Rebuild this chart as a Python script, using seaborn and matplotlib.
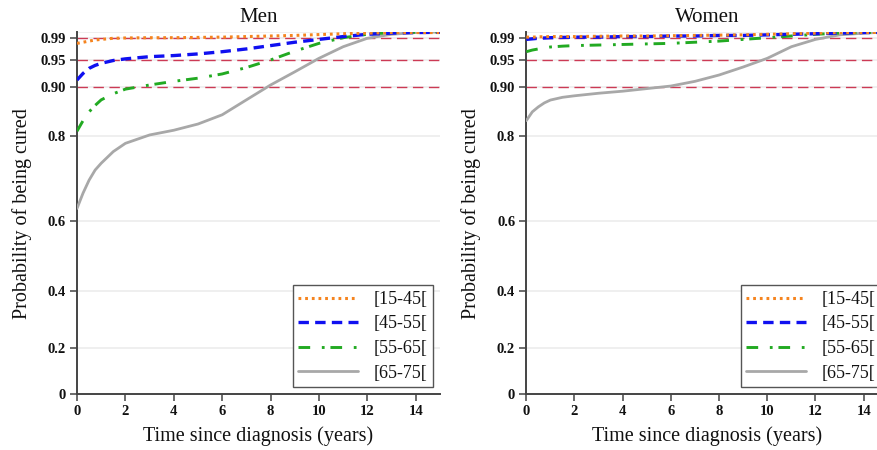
import numpy as np
import pandas as pd
import matplotlib
matplotlib.use("Agg")
import matplotlib.pyplot as plt
import seaborn as sns

sns.set_style("white")
plt.rcParams['font.family'] = ['Liberation Serif', 'DejaVu Serif']
plt.rcParams['lines.scale_dashes'] = False

# ---------------- data ----------------
time_years = [0, 0.25, 0.5, 0.75, 1, 1.5, 2, 3, 4, 5, 6, 7, 8, 9, 10, 11, 12, 13, 14, 15]
groups = ["[15-45[", "[45-55[", "[55-65[", "[65-75["]
panels = ["Men", "Women"]

men_15_45 = [0.980, 0.982, 0.984, 0.986, 0.987, 0.989, 0.9895, 0.990, 0.990, 0.9905, 0.991, 0.992,
             0.993, 0.994, 0.9955, 0.997, 0.998, 0.999, 0.999, 0.999]
men_45_55 = [0.9125, 0.925, 0.9345, 0.940, 0.9438, 0.949, 0.952, 0.956, 0.958, 0.961, 0.965, 0.970,
             0.976, 0.982, 0.987, 0.992, 0.996, 0.998, 0.999, 0.9995]
men_55_65 = [0.810, 0.832, 0.850, 0.863, 0.874, 0.886, 0.895, 0.903, 0.910, 0.916, 0.924, 0.936,
             0.950, 0.966, 0.980, 0.990, 0.996, 0.999, 0.9995, 1.0]
men_65_75 = [0.632, 0.670, 0.701, 0.7245, 0.740, 0.766, 0.784, 0.802, 0.812, 0.825, 0.844, 0.874,
             0.903, 0.928, 0.953, 0.974, 0.989, 0.996, 0.999, 1.0]

women_15_45 = [0.991, 0.991, 0.9915, 0.9918, 0.992, 0.992, 0.992, 0.9925, 0.993, 0.993, 0.9935, 0.994,
               0.9945, 0.995, 0.996, 0.997, 0.998, 0.999, 0.999, 0.9995]
women_45_55 = [0.987, 0.988, 0.989, 0.9895, 0.990, 0.9905, 0.991, 0.991, 0.992, 0.992, 0.993, 0.993,
               0.994, 0.994, 0.995, 0.996, 0.997, 0.998, 0.999, 0.9995]
women_55_65 = [0.965, 0.968, 0.970, 0.972, 0.9735, 0.975, 0.976, 0.977, 0.978, 0.979, 0.980, 0.982,
               0.984, 0.987, 0.990, 0.993, 0.996, 0.998, 0.999, 0.9995]
women_65_75 = [0.832, 0.850, 0.860, 0.868, 0.8736, 0.879, 0.882, 0.887, 0.891, 0.896, 0.901, 0.910,
               0.922, 0.937, 0.953, 0.974, 0.987, 0.995, 0.998, 1.0]

y_ticks = [0, 0.2, 0.4, 0.6, 0.8, 0.90, 0.95, 0.99]
y_tick_labels = ["0", "0.2", "0.4", "0.6", "0.8", "0.90", "0.95", "0.99"]
grid_levels = [0.2, 0.4, 0.6, 0.8, 0.90, 0.95, 0.99, 1.0]
x_ticks = [0, 2, 4, 6, 8, 10, 12, 14]
ref_levels = [0.90, 0.95, 0.99]

series = {
    "Men": [men_15_45, men_45_55, men_55_65, men_65_75],
    "Women": [women_15_45, women_45_55, women_55_65, women_65_75],
}

# ---------------- styles ----------------
colors = ["#f5841f", "#1010f0", "#22aa22", "#a8a8a8"]
widths = [2.2, 2.4, 2.1, 2.0]
styles = [(0, (2.0, 2.8)), (0, (7.5, 4.5)), (0, (8.4, 8.4, 2.0, 4.2)), "-"]
text_col = "#111111"
spine_col = "#444444"

fig = plt.figure(figsize=(8.78, 4.5), dpi=100)
W, H = 878.0, 450.0
ax_bottom = 1 - 394.3 / H
ax_height = (394.3 - 32.0) / H
axes = [
    fig.add_axes([77.0 / W, ax_bottom, 363.0 / W, ax_height]),
    fig.add_axes([526.3 / W, ax_bottom, 361.5 / W, ax_height]),
]

for ax, panel in zip(axes, panels):
    ax.set_yscale("function", functions=(np.exp, np.log))
    ax.set_xlim(0, 15)
    ax.set_ylim(0, 1.0)
    for g in grid_levels:
        ax.axhline(g, color="#eeeeee", lw=1.3, zorder=0)
    for r in ref_levels:
        ax.axhline(r, color="#cc3a55", lw=1.0, ls=(0, (7.5, 4.0)), zorder=1)
    for i, grp in enumerate(groups):
        df = pd.DataFrame({"t": time_years, "p": series[panel][i]})
        sns.lineplot(data=df, x="t", y="p", ax=ax, color=colors[i], linewidth=widths[i],
                     linestyle=styles[i], label=grp, zorder=3 + (3 - i))
    ax.set_yticks(y_ticks)
    ax.set_yticklabels(y_tick_labels)
    ax.set_xticks(x_ticks)
    ax.set_xticklabels([str(x) for x in x_ticks])
    ax.tick_params(axis="both", direction="out", length=5, width=1.1, color=spine_col,
                   labelsize=10.5, labelcolor=text_col, pad=3, left=True, bottom=True)
    for lab in ax.get_xticklabels() + ax.get_yticklabels():
        lab.set_fontweight("bold")
    for s in ["top", "right"]:
        ax.spines[s].set_visible(False)
    for s in ["left", "bottom"]:
        ax.spines[s].set_color(spine_col)
        ax.spines[s].set_linewidth(1.4)
    ax.set_title(panel, fontsize=15, color=text_col, pad=7)
    ax.set_xlabel("Time since diagnosis (years)", fontsize=14.5, color=text_col, labelpad=6)
    ax.set_ylabel("Probability of being cured", fontsize=14.5, color=text_col, labelpad=6)
    leg = ax.legend(loc="lower right", fontsize=13, frameon=True, fancybox=False,
                    framealpha=1, edgecolor="#555555", handlelength=3.3,
                    handletextpad=0.85, labelspacing=0.42, borderpad=0.3,
                    borderaxespad=0.4)
    leg.get_frame().set_linewidth(1.0)
    for t in leg.get_texts():
        t.set_color(text_col)

fig.savefig("out.png", dpi=100)
